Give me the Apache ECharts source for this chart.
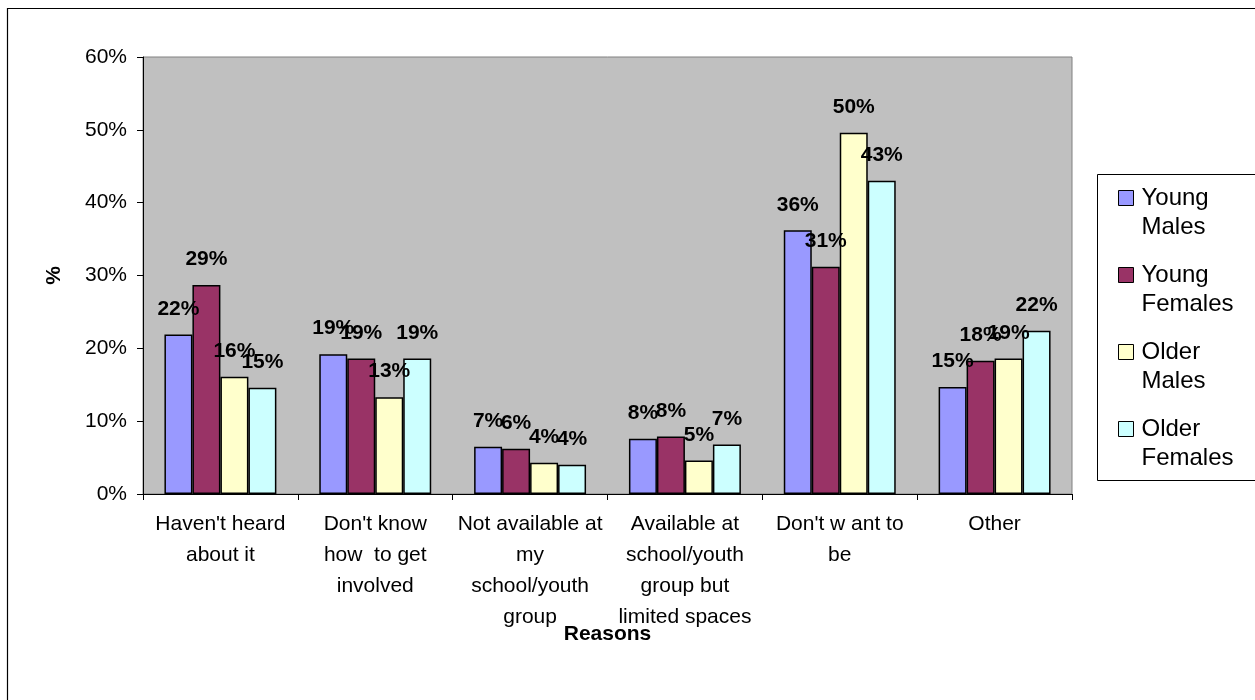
<!DOCTYPE html>
<html>
<head>
<meta charset="utf-8">
<script src="https://cdn.jsdelivr.net/npm/echarts@6/dist/echarts.min.js"></script>
<style>
  html, body { margin: 0; padding: 0; background: #fff; }
  #chart { width: 1255px; height: 700px; }
</style>
</head>
<body>
<div id="chart"></div>
<script>
// ---- data ----
const categories = [
  "Haven't heard\nabout it",
  "Don't know\nhow  to get\ninvolved",
  "Not available at\nmy\nschool/youth\ngroup",
  "Available at\nschool/youth\ngroup but\nlimited spaces",
  "Don't w ant to\nbe",
  "Other"
];
const seriesNames = ["Young Males", "Young Females", "Older Males", "Older Females"];
const youngMales    = [21.9, 19.2, 6.5, 7.6, 36.2, 14.7];
const youngFemales  = [28.7, 18.6, 6.2, 7.9, 31.2, 18.3];
const olderMales    = [16.1, 13.3, 4.3, 4.6, 49.6, 18.6];
const olderFemales  = [14.6, 18.6, 4.0, 6.8, 43.0, 22.4];
const yTicks = { min: 0, max: 60, interval: 10 };

const colors = ["#9999FF", "#993366", "#FFFFCC", "#CCFFFF"];
const seriesData = [youngMales, youngFemales, olderMales, olderFemales];

const FONT = "'Liberation Sans', Arial, sans-serif";

const chart = echarts.init(document.getElementById('chart'));
chart.setOption({
  animation: false,
  backgroundColor: '#ffffff',
  textStyle: { fontFamily: FONT },
  graphic: [
    { type: 'rect', z: -10, shape: { x: 7.5, y: 8.5, width: 1300, height: 800 },
      style: { fill: 'none', stroke: '#000', lineWidth: 1.2 } },
    { type: 'rect', z: -10, shape: { x: 1097.5, y: 174.5, width: 200, height: 306 },
      style: { fill: '#fff', stroke: '#000', lineWidth: 1 } }
  ],
  grid: {
    left: 143, top: 57, right: 183, bottom: 206,
    show: true, backgroundColor: '#C0C0C0', borderColor: '#808080', borderWidth: 1
  },
  legend: {
    orient: 'vertical',
    left: 1118, top: 154.5,
    padding: 0,
    itemGap: -10,
    itemWidth: 15, itemHeight: 15,
    icon: 'rect',
    data: seriesNames,
    formatter: n => ' \n' + n.replace(' ', '\n'),
    textStyle: { fontFamily: FONT, fontSize: 24, lineHeight: 29, color: '#000', padding: [0, 0, 0, 3] },
    itemStyle: { borderColor: '#000', borderWidth: 1 }
  },
  xAxis: {
    type: 'category',
    data: categories,
    name: 'Reasons',
    nameLocation: 'middle',
    nameGap: 130,
    nameMoveOverlap: false,
    nameTextStyle: { fontFamily: FONT, fontSize: 21, fontWeight: 'bold', color: '#000' },
    axisLine: { lineStyle: { color: '#000', width: 1 } },
    axisTick: { show: true, length: 6, lineStyle: { color: '#000' } },
    axisLabel: { fontFamily: FONT, fontSize: 21, lineHeight: 31, color: '#000', margin: 15, interval: 0 },
    splitLine: { show: false }
  },
  yAxis: {
    type: 'value',
    min: yTicks.min, max: yTicks.max, interval: yTicks.interval,
    name: '%',
    nameLocation: 'middle',
    nameGap: 78,
    nameRotate: 90,
    nameMoveOverlap: false,
    nameTextStyle: { fontFamily: FONT, fontSize: 21, fontWeight: 'bold', color: '#000' },
    axisLine: { show: true, lineStyle: { color: '#000', width: 1 } },
    axisTick: { show: true, length: 6, lineStyle: { color: '#000' } },
    axisLabel: { fontFamily: FONT, fontSize: 21, color: '#000', margin: 16, formatter: '{value}%' },
    splitLine: { show: false }
  },
  series: seriesNames.map((name, i) => ({
    name,
    type: 'bar',
    data: seriesData[i],
    barGap: '0%',
    barCategoryGap: '27.7%',
    itemStyle: { color: colors[i], borderColor: '#000', borderWidth: 1.5 },
    label: {
      show: true,
      position: 'top',
      distance: 15,
      fontFamily: FONT,
      fontSize: 21,
      fontWeight: 'bold',
      color: '#000',
      formatter: p => Math.round(p.value) + '%'
    }
  }))
});
</script>
</body>
</html>
